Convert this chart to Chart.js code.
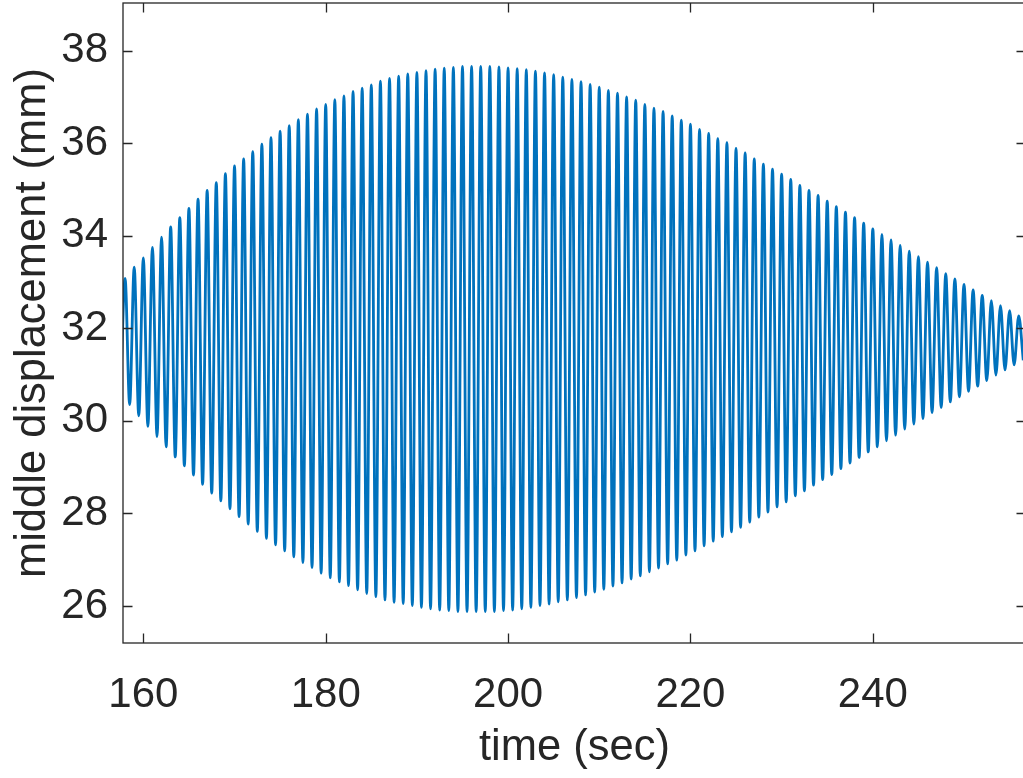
<!DOCTYPE html>
<html>
<head>
<meta charset="utf-8">
<script src="https://cdn.jsdelivr.net/npm/chart.js@4.4.1/dist/chart.umd.min.js"></script>
<style>
  html, body { margin: 0; padding: 0; background: #fff; overflow: hidden; }
  canvas { display: block; }
</style>
</head>
<body>
<canvas id="myChart" width="1030" height="778"></canvas>
<script>
// middle displacement vs time, peaks and troughs
var peakTime = [158,159,160,161,162,163,164,165,166,167,
  168,169,170,171,172,173,174,175,176,177,
  178,179,180,181,182,183,184,185,186,187,
  188,189,190,191,192,193,194,195,196,197,
  198,199,200,201,202,203,204,205,206,207,
  208,209,210,211,212,213,214,215,216,217,
  218,219,220,221,222,223,224,225,226,227,
  228,229,230,231,232,233,234,235,236,237,
  238,239,240,241,242,243,244,245,246,247,
  248,249,250,251,252,253,254,255,256];
var peakVal = [33.08,33.32,33.52,33.75,33.97,34.19,34.39,34.59,34.79,34.98,
  35.15,35.34,35.51,35.66,35.82,35.98,36.12,36.26,36.38,36.51,
  36.63,36.74,36.84,36.94,37.02,37.12,37.19,37.26,37.34,37.40,
  37.45,37.50,37.53,37.57,37.60,37.62,37.64,37.66,37.66,37.66,
  37.66,37.65,37.63,37.61,37.59,37.56,37.52,37.48,37.43,37.38,
  37.33,37.27,37.21,37.14,37.08,37.00,36.93,36.84,36.76,36.69,
  36.59,36.50,36.41,36.30,36.21,36.10,36.01,35.89,35.79,35.66,
  35.55,35.44,35.33,35.22,35.09,34.98,34.87,34.75,34.63,34.51,
  34.39,34.27,34.15,34.03,33.91,33.79,33.67,33.55,33.43,33.31,
  33.18,33.07,32.95,32.83,32.71,32.60,32.49,32.38,32.27];
var troughTime = [157.5,158.5,159.5,160.5,161.5,162.5,163.5,164.5,165.5,166.5,
  167.5,168.5,169.5,170.5,171.5,172.5,173.5,174.5,175.5,176.5,
  177.5,178.5,179.5,180.5,181.5,182.5,183.5,184.5,185.5,186.5,
  187.5,188.5,189.5,190.5,191.5,192.5,193.5,194.5,195.5,196.5,
  197.5,198.5,199.5,200.5,201.5,202.5,203.5,204.5,205.5,206.5,
  207.5,208.5,209.5,210.5,211.5,212.5,213.5,214.5,215.5,216.5,
  217.5,218.5,219.5,220.5,221.5,222.5,223.5,224.5,225.5,226.5,
  227.5,228.5,229.5,230.5,231.5,232.5,233.5,234.5,235.5,236.5,
  237.5,238.5,239.5,240.5,241.5,242.5,243.5,244.5,245.5,246.5,
  247.5,248.5,249.5,250.5,251.5,252.5,253.5,254.5,255.5,256.5];
var troughVal = [30.58,30.35,30.11,29.88,29.66,29.44,29.22,29.03,28.83,28.63,
  28.44,28.27,28.10,27.93,27.77,27.61,27.46,27.32,27.19,27.06,
  26.94,26.83,26.71,26.61,26.52,26.44,26.35,26.27,26.20,26.13,
  26.08,26.05,26.01,25.97,25.94,25.91,25.90,25.88,25.88,25.88,
  25.88,25.88,25.90,25.91,25.94,25.97,26.01,26.04,26.09,26.13,
  26.18,26.24,26.30,26.36,26.43,26.50,26.58,26.65,26.74,26.82,
  26.91,26.99,27.10,27.19,27.30,27.40,27.50,27.60,27.70,27.81,
  27.92,28.03,28.14,28.25,28.38,28.49,28.61,28.73,28.84,28.97,
  29.09,29.21,29.33,29.44,29.57,29.69,29.82,29.93,30.05,30.18,
  30.29,30.41,30.52,30.64,30.75,30.87,30.99,31.10,31.21,31.31];
var xTicks = [160, 180, 200, 220, 240];
var yTicks = [26, 28, 30, 32, 34, 36, 38];

// merge peaks and troughs in time order
var points = [];
for (var i = 0; i < troughTime.length; i++) {
  points.push({x: troughTime[i], y: troughVal[i]});
  if (i < peakTime.length) points.push({x: peakTime[i], y: peakVal[i]});
}

var axisColor = "#262626";
var fontFam = "'Liberation Sans', Arial, Helvetica, sans-serif";

// matlab style box with inward ticks
var boxPlugin = {
  id: "box",
  afterDraw: function (chart) {
    var ctx = chart.ctx, a = chart.chartArea;
    var xs = chart.scales.x, ys = chart.scales.y;
    var len = 9.5;
    ctx.save();
    ctx.strokeStyle = axisColor;
    ctx.lineWidth = 1.3;
    ctx.strokeRect(a.left, a.top, a.right - a.left, a.bottom - a.top);
    ctx.beginPath();
    xTicks.forEach(function (v) {
      var px = Math.round(xs.getPixelForValue(v)) + 0.5;
      ctx.moveTo(px, a.bottom); ctx.lineTo(px, a.bottom - len);
      ctx.moveTo(px, a.top); ctx.lineTo(px, a.top + len);
    });
    yTicks.forEach(function (v) {
      var py = Math.round(ys.getPixelForValue(v)) + 0.5;
      ctx.moveTo(a.left, py); ctx.lineTo(a.left + len, py);
      ctx.moveTo(a.right, py); ctx.lineTo(a.right - len, py);
    });
    ctx.stroke();
    ctx.restore();
  }
};

new Chart("myChart", {
  type: "line",
  data: {
    datasets: [{
      data: points,
      borderColor: "#0072BD",
      borderWidth: 2.8,
      pointRadius: 0,
      fill: false,
      cubicInterpolationMode: "monotone"
    }]
  },
  options: {
    responsive: false,
    animation: false,
    devicePixelRatio: 1,
    layout: {padding: {top: 3, right: 4, bottom: 0, left: 0}},
    plugins: {legend: {display: false}, tooltip: {enabled: false}},
    scales: {
      x: {
        type: "linear",
        min: 157.77,
        max: 256.8,
        grid: {display: false, drawTicks: false},
        border: {display: false},
        afterBuildTicks: function (s) { s.ticks = xTicks.map(function (v) { return {value: v}; }); },
        afterFit: function (s) { s.height = 135; s.paddingLeft = 0; s.paddingRight = 0; },
        ticks: {color: axisColor, font: {family: fontFam, size: 42}, padding: 27, maxRotation: 0, autoSkip: false},
        title: {display: true, text: "time (sec)", color: axisColor, font: {family: fontFam, size: 43.5}, padding: {top: 0, bottom: 4}}
      },
      y: {
        min: 25.2,
        max: 39.03,
        grid: {display: false, drawTicks: false},
        border: {display: false},
        afterBuildTicks: function (s) { s.ticks = yTicks.map(function (v) { return {value: v}; }); },
        afterFit: function (s) { s.width = 123; s.paddingTop = 0; s.paddingBottom = 0; },
        ticks: {color: axisColor, font: {family: fontFam, size: 42}, padding: 15},
        title: {display: true, text: "middle displacement (mm)", color: axisColor, font: {family: fontFam, size: 43.5}, padding: {top: 7, bottom: 0}}
      }
    }
  },
  plugins: [boxPlugin]
});
</script>
</body>
</html>
